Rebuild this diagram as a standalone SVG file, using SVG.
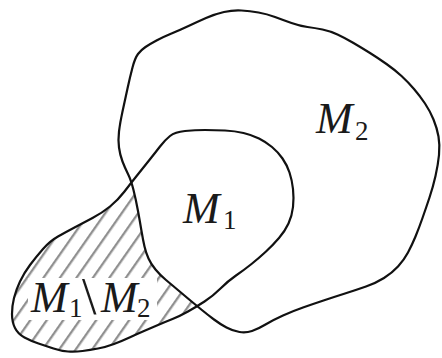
<svg xmlns="http://www.w3.org/2000/svg" xmlns:xlink="http://www.w3.org/1999/xlink" width="442" height="358" viewBox="0 0 442 358">
<style>
.outline{fill:none;stroke:#111;stroke-width:2.2;stroke-linejoin:round}
.lbl{font-family:"Liberation Serif","DejaVu Serif",serif;fill:#1a1a1a}
.it{font-style:italic;font-size:44px}
.sub{font-size:27px}
</style>
<defs>
<pattern id="hatch" patternUnits="userSpaceOnUse" width="13.5" height="20" patternTransform="rotate(35)">
<line x1="6" y1="-5" x2="6" y2="25" stroke="#8e8e8e" stroke-width="2.3"/>
</pattern>
<path id="m2shape" d="M133.5,190 Q131,180 128,174 Q125,168 122.5,161.5 Q120,155 119,147.5 Q118,140 119,131.5 Q120,123 122.5,111.5 Q125,100 127.5,88.5 Q130,77 132.5,67.5 Q135,58 138,54 Q141,50 145.5,47 Q150,44 156.5,40.5 Q163,37 171.5,33.5 Q180,30 188.5,26 Q197,22 206,18 Q215,14 224,12 Q233,10 241.5,10.5 Q250,11 258.5,12.5 Q267,14 275,17 Q283,20 291.5,23 Q300,26 307.5,27 Q315,28 322.5,29.5 Q330,31 337.5,34.5 Q345,38 353.5,43 Q362,48 370,53 Q378,58 386.5,64 Q395,70 401.5,76 Q408,82 414,89 Q420,96 425,103.5 Q430,111 433.5,119.5 Q437,128 438.5,136.5 Q440,145 439,155 Q438,165 435.5,176 Q433,187 429.5,197.5 Q426,208 422.5,218 Q419,228 415.5,236.5 Q412,245 408,252.5 Q404,260 398,266.5 Q392,273 384,278 Q376,283 366,286.5 Q356,290 345,293.5 Q334,297 323.5,300.5 Q313,304 303,307.5 Q293,311 283,315.5 Q273,320 265.5,324.5 Q258,329 252,331 Q246,333 239.5,332 Q233,331 226.5,327.5 Q220,324 214,319.5 Q208,315 202.5,310.5 Q197,306 191,301 Q185,296 178.5,290.5 Q172,285 166,280 Q160,275 155.5,269.5 Q151,264 148.5,258.5 Q146,253 144.5,246.5 Q143,240 141.5,231 Q140,222 138,211 Q136,200 133.5,190 Z"/>
<path id="m1shape" d="M170,136 Q175,132 185,131 Q195,130 205,130 Q215,130 225,130.5 Q235,131 243.5,133 Q252,135 259,138.5 Q266,142 272,147 Q278,152 282.5,158.5 Q287,165 289.5,172.5 Q292,180 293,189 Q294,198 293,207 Q292,216 288.5,223.5 Q285,231 279,238 Q273,245 266,251.5 Q259,258 251.5,264 Q244,270 236,275.5 Q228,281 220.5,288.5 Q213,296 204.5,301.5 Q196,307 188,311.5 Q180,316 172.5,319 Q165,322 158,325 Q151,328 144,331 Q137,334 129.5,337.5 Q122,341 114,344 Q106,347 98,348.5 Q90,350 82.5,351 Q75,352 68,351.5 Q61,351 53.5,348.5 Q46,346 38.5,343.5 Q31,341 24.5,337.5 Q18,334 15,328 Q12,322 12,314 Q12,306 14,298 Q16,290 20,281.5 Q24,273 30,265 Q36,257 43,249 Q50,241 58,236.5 Q66,232 74.5,227.5 Q83,223 92.5,218 Q102,213 110,206.5 Q118,200 124.5,191.5 Q131,183 137,175.5 Q143,168 149,160.5 Q155,153 160,146.5 Q165,140 170,136 Z"/>
</defs>
<rect width="442" height="358" fill="#fff"/>
<g id="fills">
<use xlink:href="#m1shape" fill="url(#hatch)"/>
<use xlink:href="#m2shape" fill="#fff"/>
<rect x="28" y="278" width="129" height="42" fill="#fff"/>
</g>
<g id="M2">
<use xlink:href="#m2shape" class="outline"/>
<text class="lbl it" x="316" y="133">M</text>
<text class="lbl sub" x="355" y="140">2</text>
</g>
<g id="M1">
<use xlink:href="#m1shape" class="outline"/>
<text class="lbl it" x="183" y="223">M</text>
<text class="lbl sub" x="223" y="229">1</text>
</g>
<g id="M1minusM2">
<text class="lbl it" x="31" y="312">M</text>
<text class="lbl sub" x="69" y="317">1</text>
<text class="lbl" x="82" y="314" font-size="52">\</text>
<text class="lbl it" x="101" y="312">M</text>
<text class="lbl sub" x="137" y="317">2</text>
</g>
</svg>
